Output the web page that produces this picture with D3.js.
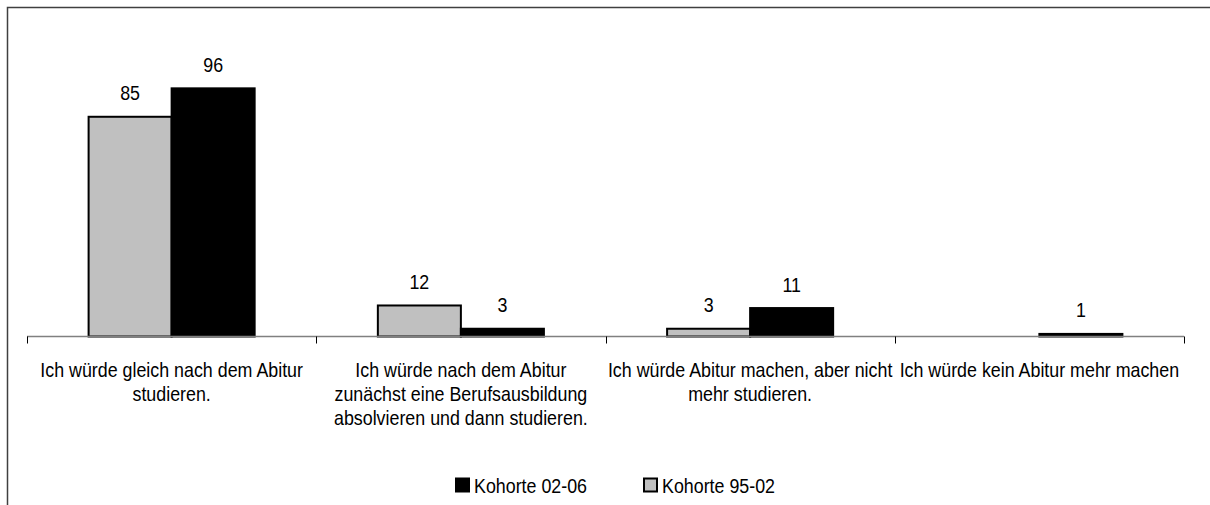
<!DOCTYPE html>
<html>
<head>
<meta charset="utf-8">
<script src="https://cdn.jsdelivr.net/npm/d3@7"></script>
<style>
  html, body { margin: 0; padding: 0; background: #fff; }
  svg text { font-family: "Liberation Sans", Arial, sans-serif; fill: #000; }
</style>
</head>
<body>
<svg id="chart" width="1210" height="505"></svg>
<script>
const categories = [
  ["Ich würde gleich nach dem Abitur", "studieren."],
  ["Ich würde nach dem Abitur", "zunächst eine Berufsausbildung", "absolvieren und dann studieren."],
  ["Ich würde Abitur machen, aber nicht", "mehr studieren."],
  ["Ich würde kein Abitur mehr machen"]
];
const seriesNames = ["Kohorte 95-02", "Kohorte 02-06"];
const kohorte9502 = [85, 12, 3, null];
const kohorte0206 = [96, 3, 11, 1];
const legendOrder = ["Kohorte 02-06", "Kohorte 95-02"];

const colors = { "Kohorte 95-02": "#c0c0c0", "Kohorte 02-06": "#000000" };
const seriesValues = { "Kohorte 95-02": kohorte9502, "Kohorte 02-06": kohorte0206 };

const svg = d3.select("#chart");
const fontSize = 21;
const squeeze = 0.85; // narrow-font emulation

function narrowText(parent, x, y, anchor, lines, lineH) {
  const g = parent.append("g").attr("transform", `translate(${x},${y}) scale(${squeeze},1)`);
  const t = g.append("text").attr("text-anchor", anchor).attr("font-size", fontSize);
  t.selectAll("tspan").data(lines).join("tspan")
    .attr("x", 0).attr("y", (d, k) => k * (lineH || 0))
    .text(d => d);
  return g;
}

// outer frame (right/bottom edges cut off)
svg.append("path")
  .attr("d", "M7.5,505 L7.5,7.5 L1210,7.5")
  .attr("fill", "none").attr("stroke", "#404040").attr("stroke-width", 1.5);

const catIdx = categories.map((d, i) => i);
const x = d3.scaleBand().domain(catIdx).range([27, 1184]).padding(0);
const x1 = d3.scaleBand().domain(seriesNames).range([0, x.bandwidth()]).paddingInner(0).paddingOuter(0.742);
const baseY = 336.5;
const y = d3.scaleLinear().domain([0, 120]).range([baseY, baseY - 120 * 2.585]);

const data = [];
catIdx.forEach(i => seriesNames.forEach(s => {
  const v = seriesValues[s][i];
  if (v != null) data.push({ i, s, v });
}));

// bars
svg.append("g").selectAll("rect").data(data).join("rect")
  .attr("x", d => x(d.i) + x1(d.s))
  .attr("y", d => y(d.v))
  .attr("width", x1.bandwidth())
  .attr("height", d => baseY - y(d.v))
  .attr("fill", d => colors[d.s])
  .attr("stroke", "#000").attr("stroke-width", 2);

// value labels
const vl = svg.append("g");
data.forEach(d => {
  narrowText(vl, x(d.i) + x1(d.s) + x1.bandwidth() / 2, y(d.v) - 16.5, "middle", [String(d.v)]);
});

// axis line and ticks
const axis = svg.append("g");
axis.append("line")
  .attr("x1", x.range()[0]).attr("x2", x.range()[1])
  .attr("y1", baseY).attr("y2", baseY)
  .attr("stroke", "#808080").attr("stroke-width", 1.5);
const tickPos = catIdx.map(i => x(i)).concat([x(catIdx[catIdx.length - 1]) + x.bandwidth()]);
axis.selectAll("line.tick").data(tickPos).join("line").attr("class", "tick")
  .attr("x1", d => Math.round(d) + 0.5).attr("x2", d => Math.round(d) + 0.5)
  .attr("y1", baseY).attr("y2", baseY + 7)
  .attr("stroke", "#000").attr("stroke-width", 1);

// category labels
categories.forEach((lines, i) => {
  narrowText(axis, x(i) + x.bandwidth() / 2, 377, "middle", lines, 24);
});

// legend
const legX = [455, 643];
const leg = svg.append("g");
legendOrder.forEach((s, k) => {
  leg.append("rect")
    .attr("x", legX[k] + 1).attr("y", 478.5)
    .attr("width", 13).attr("height", 13)
    .attr("fill", colors[s]).attr("stroke", "#000").attr("stroke-width", 2);
  narrowText(leg, legX[k] + 19, 493, "start", [s]);
});
</script>
</body>
</html>
